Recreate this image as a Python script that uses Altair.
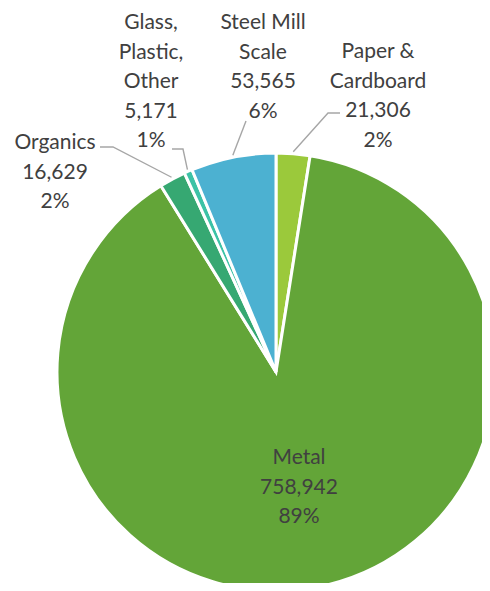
import altair as alt
import pandas as pd
import numpy as np

# ---- data ----
categories = ["Paper & Cardboard", "Metal", "Organics", "Glass, Plastic, Other", "Steel Mill Scale"]
values = [21306, 758942, 16629, 5171, 53565]
label_names = [["Paper &", "Cardboard"], ["Metal"], ["Organics"], ["Glass,", "Plastic,", "Other"], ["Steel Mill", "Scale"]]
colors = ["#9BC93B", "#63A538", "#36A872", "#3CC2A6", "#4CB1D1"]

# ---- layout (pixels in chart coordinates) ----
W, H = 474, 575
CX, CY, R = 268, 364, 219
LINE_H = 29.5
label_anchor = {  # centre x, centre y of first line
    "Paper & Cardboard": (370, 44),
    "Metal": (291, 450),
    "Organics": (47, 135),
    "Glass, Plastic, Other": (143, 15),
    "Steel Mill Scale": (255, 15),
}
leader_start = {  # label end of leader line, optional elbow
    "Paper & Cardboard": [(332, 105), (320, 105)],
    "Organics": [(92, 139), (105, 139)],
    "Glass, Plastic, Other": [(164, 141), (175, 141)],
    "Steel Mill Scale": [(238, 113)],
}

total = sum(values)
df = pd.DataFrame({"category": categories, "value": values, "idx": range(len(values))})

rows = []
cum = 0
line_rows = []
for cat, v, names in zip(categories, values, label_names):
    pct = f"{round(v / total * 100):.0f}%"
    lines = names + [f"{v:,}", pct]
    x0, y0 = label_anchor[cat]
    for i, t in enumerate(lines):
        rows.append({"x": x0, "y": y0 + i * LINE_H, "text": t})
    mid = (cum + v / 2) / total * 2 * np.pi
    cum += v
    if cat in leader_start:
        pts = list(leader_start[cat])
        ex = CX + (R + 2) * np.sin(mid)
        ey = CY - (R + 2) * np.cos(mid)
        pts.append((ex, ey))
        for k, (px, py) in enumerate(pts):
            line_rows.append({"seg": cat, "k": k, "x": px, "y": py})

text_df = pd.DataFrame(rows)
line_df = pd.DataFrame(line_rows)

arcs = alt.Chart(df).mark_arc(outerRadius=R, stroke="white", strokeWidth=3).encode(
    theta=alt.Theta("value:Q", stack=True),
    order=alt.Order("idx:Q"),
    color=alt.Color("category:N", scale=alt.Scale(domain=categories, range=colors), legend=None),
    x=alt.value(CX),
    y=alt.value(CY),
)

leaders = alt.Chart(line_df).mark_line(color="#A6A6A6", strokeWidth=1.4).encode(
    x=alt.X("x:Q", scale=None, axis=None),
    y=alt.Y("y:Q", scale=None, axis=None),
    detail="seg:N",
    order="k:Q",
)

texts = alt.Chart(text_df).mark_text(
    align="center", baseline="middle", font="Lato", fontSize=21, color="#404040"
).encode(
    x=alt.X("x:Q", scale=None, axis=None),
    y=alt.Y("y:Q", scale=None, axis=None),
    text="text:N",
)

chart = alt.layer(arcs, leaders, texts).properties(
    width=W, height=H, padding=0, autosize="none"
).configure_view(stroke=None)

chart.save("out.html", embed_options={"renderer": "svg", "actions": False})
